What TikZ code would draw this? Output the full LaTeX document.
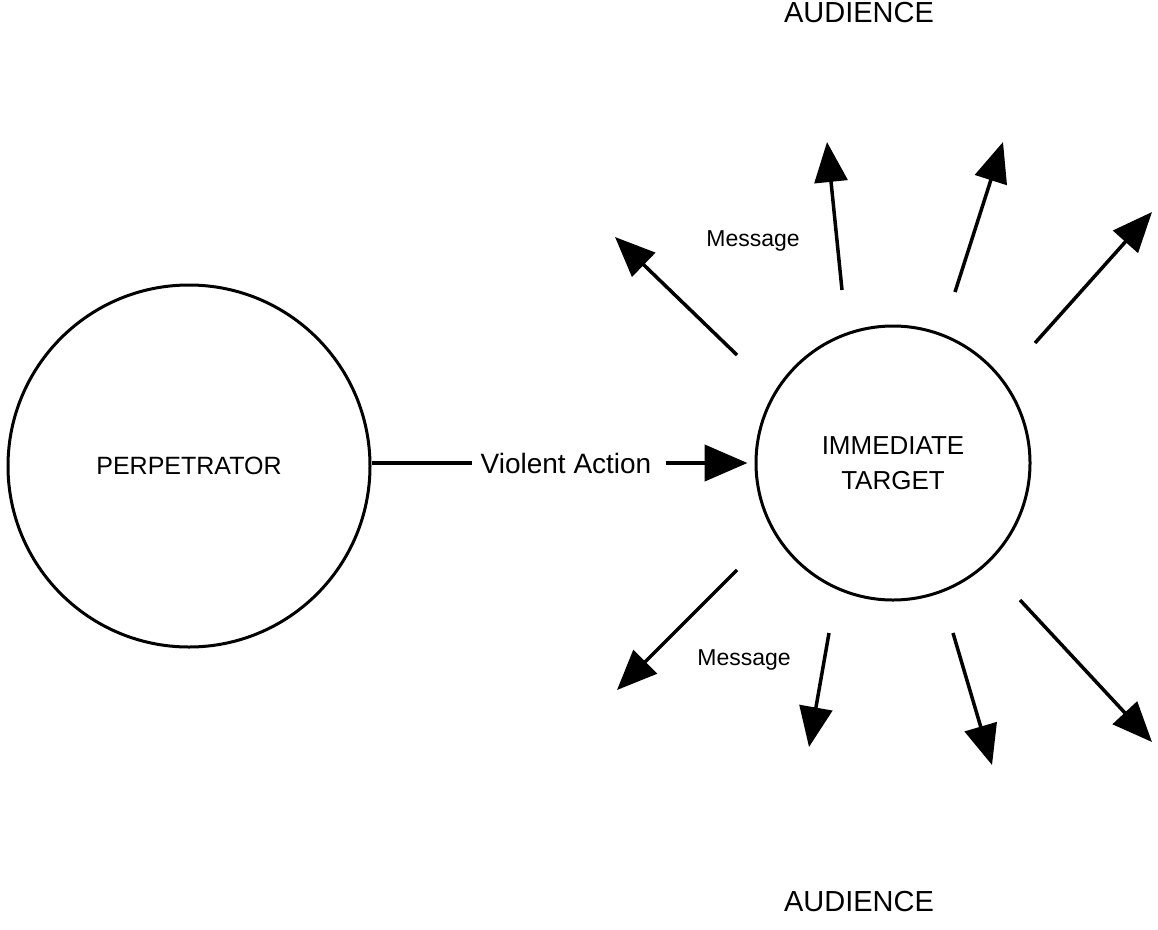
\documentclass[tikz,border=0pt]{standalone}
\usepackage{fontspec}
\setmainfont{Liberation Sans}
\usetikzlibrary{arrows.meta}
\begin{document}
\begin{tikzpicture}[x=1pt,y=-1pt,
  bigcirc/.style={draw, circle, line width=3pt, inner sep=0pt},
  msg/.style={-{Triangle[length=40pt,width=33pt]}, line width=3.5pt},
  lbl/.style={font=\fontsize{23}{28}\selectfont, inner sep=0pt},
  aud/.style={font=\fontsize{29}{34}\selectfont, inner sep=0pt}]
\useasboundingbox[fill=white] (0,0) rectangle (1158,929);
\node[bigcirc, minimum size=362pt, font=\fontsize{25}{30}\selectfont] (perp) at (189,466) {PERPETRATOR};
\node[bigcirc, minimum size=274pt, align=center, font=\fontsize{26}{35}\selectfont] (target) at (893,463) {IMMEDIATE\\TARGET};
\node[font=\fontsize{28}{32}\selectfont, inner sep=0pt] (va) at (566,463) {Violent Action};
\draw[line width=4.5pt] (va.west -| perp.east) -- ([xshift=-8pt]va.west);
\draw[line width=4.5pt, -{Triangle[length=43pt,width=36pt]}] ([xshift=14pt]va.east) -- ([xshift=-7pt]va.east -| target.west);

\coordinate (s1) at (737,355); \coordinate (t1) at (615,237);
\coordinate (s2) at (842,290); \coordinate (t2) at (827,142);
\coordinate (s3) at (955,292); \coordinate (t3) at (1003,142);
\coordinate (s4) at (1035,343); \coordinate (t4) at (1152,212);
\coordinate (s5) at (737,570); \coordinate (t5) at (617,690);
\coordinate (s6) at (829,633); \coordinate (t6) at (809,747);
\coordinate (s7) at (953,633); \coordinate (t7) at (992,765);
\coordinate (s8) at (1020,600); \coordinate (t8) at (1152,742);
\foreach \i in {1,...,8} \draw[msg] (s\i) -- (t\i);

\node[lbl] (m1) at (753,241) {Message};
\node[lbl] (m2) at (744,660) {Message};
\node[aud] (a1) at (859,13) {AUDIENCE};
\node[aud] (a2) at (859,902) {AUDIENCE};
\end{tikzpicture}
\end{document}
